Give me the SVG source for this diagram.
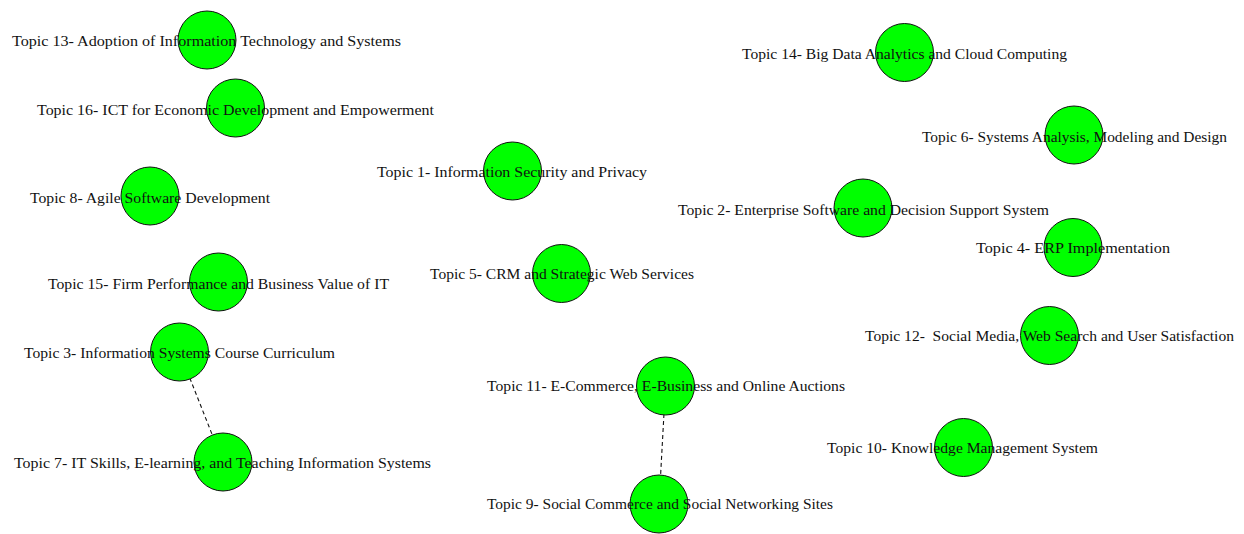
<svg xmlns="http://www.w3.org/2000/svg" width="1244" height="534" viewBox="0 0 1244 534">
  <style>
    .node circle { fill: #00ff00; stroke: #111; stroke-width: 1; }
    .node text { font-family: "Liberation Serif", "DejaVu Serif", serif; font-size: 15px; fill: #111; text-anchor: middle; dominant-baseline: central; }
    .edge { stroke: #111; stroke-width: 1.1; stroke-dasharray: 4 3; fill: none; }
  </style>
  <rect width="1244" height="534" fill="#ffffff"/>

  <!-- connectors -->
  <g id="edges">
    <line class="edge" x1="179.5" y1="352" x2="223" y2="462"/>
    <line class="edge" x1="665.5" y1="386" x2="659" y2="504"/>
  </g>

  <!-- topic nodes -->
  <g id="topic13" class="node"><circle cx="207" cy="40" r="29"/><text x="206.5" y="41" textLength="389" lengthAdjust="spacingAndGlyphs">Topic 13- Adoption of Information Technology and Systems</text></g>
  <g id="topic16" class="node"><circle cx="235.5" cy="108" r="29"/><text x="235.5" y="110" textLength="397" lengthAdjust="spacingAndGlyphs">Topic 16- ICT for Economic Development and Empowerment</text></g>
  <g id="topic8" class="node"><circle cx="150" cy="196" r="29"/><text x="150" y="198" textLength="240" lengthAdjust="spacingAndGlyphs">Topic 8- Agile Software Development</text></g>
  <g id="topic15" class="node"><circle cx="218.5" cy="282" r="29"/><text x="218.5" y="284" textLength="341" lengthAdjust="spacingAndGlyphs">Topic 15- Firm Performance and Business Value of IT</text></g>
  <g id="topic3" class="node"><circle cx="179.5" cy="352" r="29"/><text x="179.5" y="353" textLength="311" lengthAdjust="spacingAndGlyphs">Topic 3- Information Systems Course Curriculum</text></g>
  <g id="topic7" class="node"><circle cx="223" cy="462" r="29"/><text x="222.5" y="463" textLength="417" lengthAdjust="spacingAndGlyphs">Topic 7- IT Skills, E-learning, and Teaching Information Systems</text></g>
  <g id="topic1" class="node"><circle cx="512.5" cy="171" r="29"/><text x="512" y="172" textLength="270" lengthAdjust="spacingAndGlyphs">Topic 1- Information Security and Privacy</text></g>
  <g id="topic5" class="node"><circle cx="561.5" cy="273.5" r="29"/><text x="562" y="274" textLength="264" lengthAdjust="spacingAndGlyphs">Topic 5- CRM and Strategic Web Services</text></g>
  <g id="topic11" class="node"><circle cx="665.5" cy="386" r="29"/><text x="666" y="386" textLength="358" lengthAdjust="spacingAndGlyphs">Topic 11- E-Commerce, E-Business and Online Auctions</text></g>
  <g id="topic9" class="node"><circle cx="659" cy="504" r="29"/><text x="660" y="504" textLength="346" lengthAdjust="spacingAndGlyphs">Topic 9- Social Commerce and Social Networking Sites</text></g>
  <g id="topic14" class="node"><circle cx="904.5" cy="52.5" r="29"/><text x="904.5" y="54" textLength="325" lengthAdjust="spacingAndGlyphs">Topic 14- Big Data Analytics and Cloud Computing</text></g>
  <g id="topic6" class="node"><circle cx="1074" cy="135" r="29"/><text x="1074.5" y="137" textLength="305" lengthAdjust="spacingAndGlyphs">Topic 6- Systems Analysis, Modeling and Design</text></g>
  <g id="topic2" class="node"><circle cx="863" cy="208" r="29"/><text x="863.5" y="210" textLength="371" lengthAdjust="spacingAndGlyphs">Topic 2- Enterprise Software and Decision Support System</text></g>
  <g id="topic4" class="node"><circle cx="1073" cy="247.5" r="29"/><text x="1073" y="248" textLength="194" lengthAdjust="spacingAndGlyphs">Topic 4- ERP Implementation</text></g>
  <g id="topic12" class="node"><circle cx="1049.5" cy="335.5" r="29"/><text x="1049.5" y="336" textLength="369" lengthAdjust="spacingAndGlyphs" xml:space="preserve">Topic 12-  Social Media, Web Search and User Satisfaction</text></g>
  <g id="topic10" class="node"><circle cx="963.5" cy="447.5" r="29"/><text x="962.5" y="448" textLength="271" lengthAdjust="spacingAndGlyphs">Topic 10- Knowledge Management System</text></g>
</svg>
